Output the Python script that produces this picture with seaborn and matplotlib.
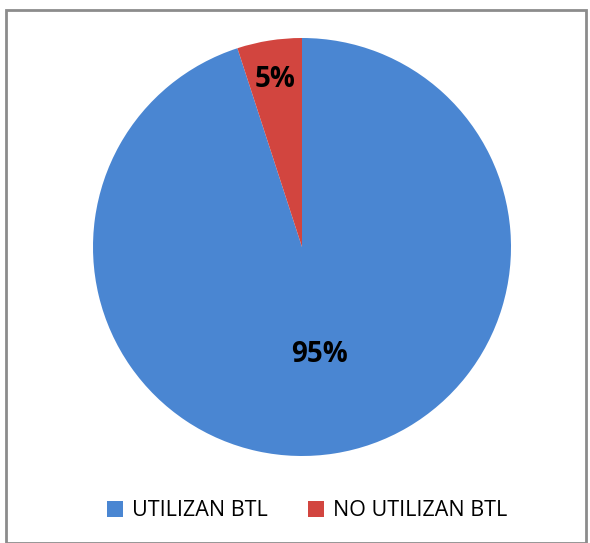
import matplotlib
matplotlib.use('Agg')
import matplotlib.pyplot as plt
import seaborn as sns
from matplotlib.patches import Rectangle

# Datos
categorias = ['UTILIZAN BTL', 'NO UTILIZAN BTL']
porcentajes = [95, 5]
colores = ['#4A86D2', '#D2453F']

sns.set_style('white')
plt.rcParams['font.family'] = ['Open Sans', 'DejaVu Sans']

fig = plt.figure(figsize=(5.9, 5.43), dpi=100)
ax = fig.add_axes([0.0, 0.0, 1.0, 1.0])

# Pastel, centro y radio en pixeles
cx, cy, r = 302 / 590, 1 - 247 / 543, 209
ax.set_position([cx - r / 590, cy - r / 543, 2 * r / 590, 2 * r / 543])

wedges, texts, autotexts = ax.pie(
    porcentajes, colors=colores, startangle=90, counterclock=False,
    autopct='%1.0f%%', pctdistance=0.52,
    wedgeprops=dict(edgecolor='none', linewidth=0),
    textprops=dict(fontsize=20, fontweight='bold', color='black'))
ax.set_xlim(-1, 1)
ax.set_ylim(-1, 1)
ax.axis('off')

# Mover la etiqueta del 5% hacia el borde
x, y = autotexts[1].get_position()
autotexts[1].set_position((x * 1.56, y * 1.56))

# Leyenda abajo
fig.legend(wedges, categorias, loc='center', bbox_to_anchor=(307 / 590, 1 - 511 / 543),
           ncol=2, frameon=False, fontsize=15.5, handlelength=0.75, handleheight=0.75,
           handletextpad=0.4, columnspacing=1.9, labelcolor='black')

# Marco gris
fig.patches.append(Rectangle((6 / 590, 0), 580 / 590, 1 - 10 / 543, transform=fig.transFigure,
                             fill=False, edgecolor='#8c8c8c', linewidth=2))

fig.savefig('out.png', dpi=100)
